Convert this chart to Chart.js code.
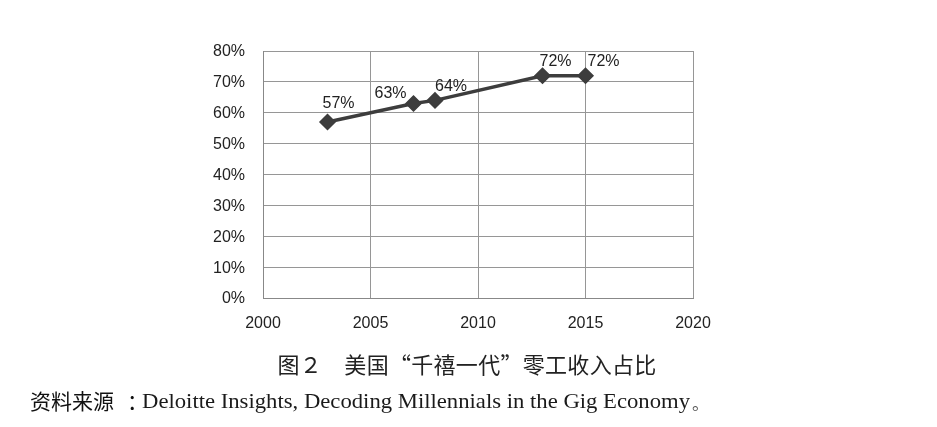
<!DOCTYPE html>
<html>
<head>
<meta charset="utf-8">
<script src="https://cdn.jsdelivr.net/npm/chart.js@4/dist/chart.umd.min.js"></script>
<style>
  html, body { margin:0; padding:0; background:#fff; }
  #wrap { position:relative; width:937px; height:427px; overflow:hidden; }
  #c { position:absolute; left:0; top:0; }
  .t { position:absolute; white-space:nowrap; }
  #title { left:0; width:934px; top:352px; text-align:center; font:22px/22px "Noto Sans CJK SC"; letter-spacing:0.3px; color:#222; }
  #srcA { left:30px; top:389px; font:21px/22px "Noto Sans CJK SC"; color:#111; }
  #srcColon { left:127px; top:389px; font:21px/22px "Noto Sans CJK SC"; color:#111; }
  #srcB { left:142px; top:390px; font:22px/22px "Liberation Serif"; color:#1a1a1a; transform-origin:0 0; }
  #srcDot { left:692px; top:392px; font:17px/22px "Noto Sans CJK SC"; color:#555; }
</style>
</head>
<body>
<div id="wrap">
  <canvas id="c" width="937" height="427"></canvas>
  <div class="t" id="title">图２　美国“千禧一代”零工收入占比</div>
  <div class="t" id="srcA">资料来源</div>
  <div class="t" id="srcColon">：</div>
  <div class="t" id="srcB">Deloitte Insights, Decoding Millennials in the Gig Economy</div>
  <div class="t" id="srcDot">。</div>
</div>
<script>
const years = [2003, 2007, 2008, 2013, 2015];
const shares = [57, 63, 64, 72, 72];
const pointLabels = ['57%', '63%', '64%', '72%', '72%'];
const xTicks = [2000, 2005, 2010, 2015, 2020];
const yTicks = [0, 10, 20, 30, 40, 50, 60, 70, 80];
// label offsets relative to each point (style only)
const labelOffsets = [[11, -18], [-23, -10], [16, -14], [13, -14], [18, -14]];

const labelPlugin = {
  id: 'pointLabels',
  afterDatasetsDraw(chart) {
    const ctx = chart.ctx;
    const meta = chart.getDatasetMeta(0);
    ctx.save();
    ctx.font = '16px "Liberation Sans"';
    ctx.fillStyle = '#222';
    ctx.textAlign = 'center';
    ctx.textBaseline = 'middle';
    meta.data.forEach((pt, i) => {
      const o = labelOffsets[i];
      ctx.fillText(pointLabels[i], pt.x + o[0], pt.y + o[1]);
    });
    ctx.restore();
  }
};

new Chart(document.getElementById('c'), {
  type: 'line',
  data: {
    datasets: [{
      data: years.map((y, i) => ({ x: y, y: shares[i] })),
      borderColor: '#3d3d3d',
      backgroundColor: '#3d3d3d',
      borderWidth: 3.5,
      tension: 0,
      pointStyle: 'rectRot',
      pointRadius: 7.5,
      pointBorderWidth: 1.5,
      pointBorderColor: '#3d3d3d',
      pointBackgroundColor: '#3d3d3d'
    }]
  },
  options: {
    responsive: false,
    animation: false,
    devicePixelRatio: 1,
    layout: { padding: { left: 200, top: 51, right: 244, bottom: 89 } },
    plugins: { legend: { display: false }, tooltip: { enabled: false } },
    scales: {
      x: {
        type: 'linear',
        min: xTicks[0], max: xTicks[xTicks.length - 1],
        afterBuildTicks: s => { s.ticks = xTicks.map(v => ({ value: v })); },
        afterFit: s => { s.height = 40; },
        ticks: {
          callback: v => String(v),
          font: { family: 'Liberation Sans', size: 16 },
          color: '#222',
          padding: 16,
          maxRotation: 0
        },
        grid: { color: '#969696', lineWidth: 1, drawTicks: false },
        border: { display: true, color: '#888', width: 1 }
      },
      y: {
        min: yTicks[0], max: yTicks[yTicks.length - 1],
        afterBuildTicks: s => { s.ticks = yTicks.map(v => ({ value: v })); },
        afterFit: s => { s.width = 63; },
        ticks: {
          callback: v => v + '%',
          font: { family: 'Liberation Sans', size: 16 },
          color: '#222',
          padding: 18,
          labelOffset: 1
        },
        grid: { color: '#969696', lineWidth: 1, drawTicks: false },
        border: { display: true, color: '#888', width: 1 }
      }
    }
  },
  plugins: [labelPlugin]
});

// fit the condensed serif source text to its width in the reference
(function () {
  const el = document.getElementById('srcB');
  const w = el.getBoundingClientRect().width;
  el.style.transform = 'scaleX(' + (548 / w) + ')';
})();
</script>
</body>
</html>
